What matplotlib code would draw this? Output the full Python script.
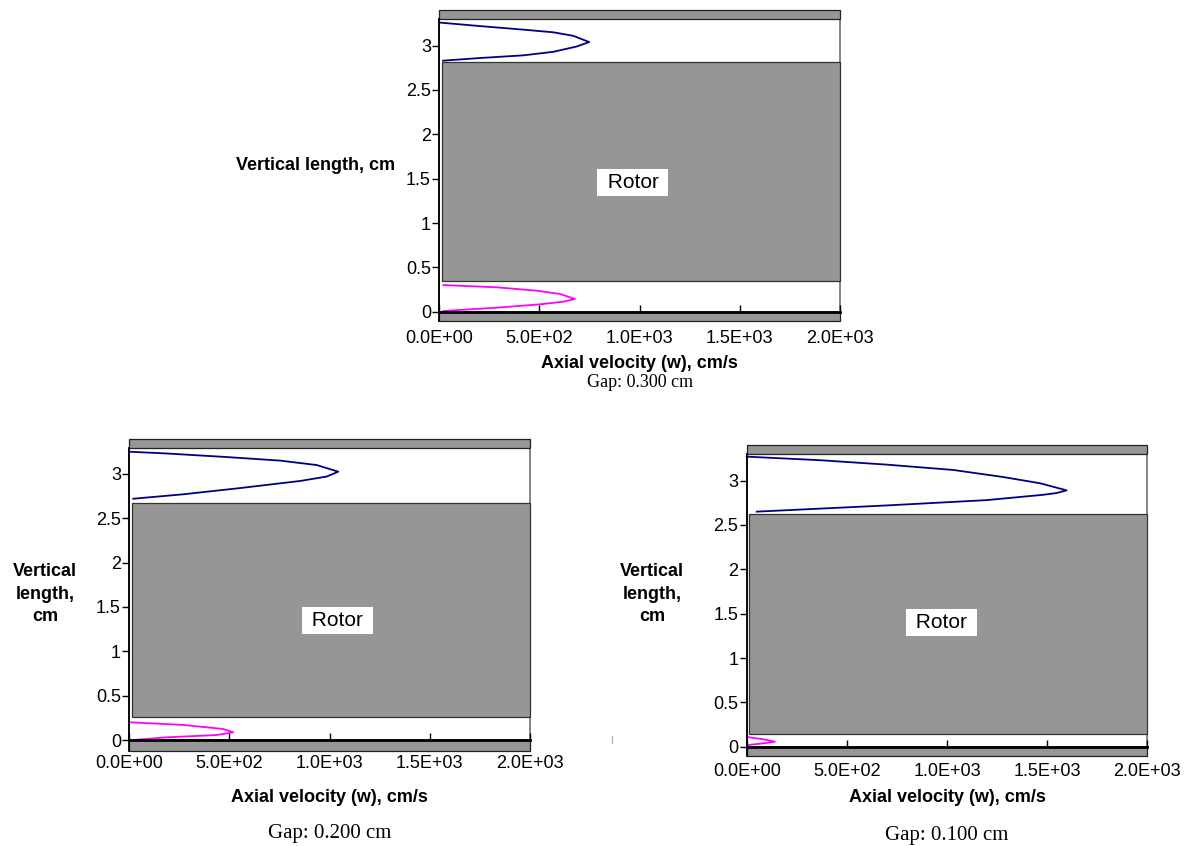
import matplotlib
matplotlib.use("Agg")
import matplotlib.pyplot as plt
from matplotlib.patches import Rectangle
from matplotlib.lines import Line2D
from matplotlib.ticker import FuncFormatter

plt.rcParams["font.family"] = "Liberation Sans"

# axis ticks shared by all three panels
x_ticks = [0, 500, 1000, 1500, 2000]
y_ticks = [0, 0.5, 1, 1.5, 2, 2.5, 3]

gap_labels = ["Gap: 0.300 cm", "Gap: 0.200 cm", "Gap: 0.100 cm"]

# rotor / housing geometry per case (cm)
housing_top = [3.30, 3.29, 3.30]
rotor_bottom = [0.35, 0.26, 0.14]
rotor_top = [2.82, 2.67, 2.62]
wall = [0.105, 0.12, 0.105]

# upper gap velocity profiles (w in cm/s, z in cm)
w_upper_300 = [0, 203, 419, 569, 669, 748, 686, 569, 419, 203, 18]
z_upper_300 = [3.26, 3.22, 3.18, 3.15, 3.11, 3.04, 2.99, 2.93, 2.89, 2.86, 2.83]
w_upper_200 = [0, 188, 486, 752, 935, 1043, 985, 852, 552, 269, 20]
z_upper_200 = [3.25, 3.23, 3.19, 3.15, 3.10, 3.025, 2.97, 2.92, 2.84, 2.77, 2.72]
w_upper_100 = [0, 366, 699, 1031, 1281, 1464, 1597, 1547, 1480, 1198, 699, 50]
z_upper_100 = [3.27, 3.23, 3.18, 3.12, 3.04, 2.97, 2.89, 2.86, 2.84, 2.78, 2.72, 2.65]

# lower gap velocity profiles
w_lower_300 = [20, 286, 486, 602, 677, 619, 502, 286, 20]
z_lower_300 = [0.30, 0.275, 0.237, 0.20, 0.143, 0.113, 0.083, 0.045, 0.008]
w_lower_200 = [0, 269, 469, 519, 436, 186, 20]
z_lower_200 = [0.20, 0.17, 0.124, 0.087, 0.056, 0.03, 0.0]
w_lower_100 = [0, 83, 141, 83, 8]
z_lower_100 = [0.11, 0.083, 0.056, 0.038, 0.019]

upper_w = [w_upper_300, w_upper_200, w_upper_100]
upper_z = [z_upper_300, z_upper_200, z_upper_100]
lower_w = [w_lower_300, w_lower_200, w_lower_100]
lower_z = [z_lower_300, z_lower_200, z_lower_100]
rotor_label_pos = [(966, 1.46), (1039, 1.35), (972, 1.40)]

W, H = 1197, 846
fig = plt.figure(figsize=(W / 100, H / 100), dpi=100)

# panel placement in pixels: left edge, row of z=0, tick label pad
panels = [(439.3, 311.7, 13.5), (129.3, 740.0, 10.5), (746.7, 746.7, 11.5)]
px_per_cm = 88.7
plot_w = 400.7
y_lo, y_hi = -0.12, 3.41

ylabel_pos = [(395, 165, "right", "Vertical length, cm"),
              (45, 594, "center", "Vertical\nlength,\ncm"),
              (652, 594, "center", "Vertical\nlength,\ncm")]
xlabel_y = [363, 797, 797]
gap_y = [382, 833, 835]
gap_size = [13, 15, 15]

for i, (left, zero, pad) in enumerate(panels):
    top = zero - y_hi * px_per_cm
    bottom = zero - y_lo * px_per_cm
    ax = fig.add_axes([left / W, 1 - bottom / H, plot_w / W, (bottom - top) / H])
    ax.set_xlim(0, 2000)
    ax.set_ylim(y_lo, y_hi)
    ax.patch.set_visible(False)

    gray = "#969696"
    # plot frame of the gap region
    ax.add_patch(Rectangle((0, 0), 2000, housing_top[i], fc="white",
                           ec="#707070", lw=1.2, zorder=1, clip_on=False))
    # housing walls above and below
    ax.add_patch(Rectangle((0, housing_top[i]), 2000, 0.1, fc=gray,
                           ec="#222222", lw=0.9, zorder=2, clip_on=False))
    ax.add_patch(Rectangle((0, -wall[i]), 2000, wall[i], fc=gray,
                           ec="#222222", lw=0.9, zorder=2, clip_on=False))
    # rotor body
    ax.add_patch(Rectangle((12, rotor_bottom[i]), 1988,
                           rotor_top[i] - rotor_bottom[i], fc=gray,
                           ec="#333333", lw=0.9, zorder=2, clip_on=False))

    ax.plot(upper_w[i], upper_z[i], color="#000080", lw=1.3, zorder=4,
            solid_joinstyle="round", clip_on=False)
    ax.plot(lower_w[i], lower_z[i], color="#ff00ff", lw=1.3, zorder=4,
            solid_joinstyle="round", clip_on=False)

    rx, ry = rotor_label_pos[i]
    ax.text(rx, ry, " Rotor ", fontsize=15, ha="center", va="center",
            zorder=5, bbox=dict(boxstyle="square,pad=0.2", fc="white", ec="none"))

    for side in ["top", "right"]:
        ax.spines[side].set_visible(False)
    ax.spines["left"].set_position(("data", 0))
    ax.spines["left"].set_bounds(-wall[i], housing_top[i])
    ax.spines["left"].set_linewidth(1.3)
    ax.spines["left"].set_zorder(6)
    ax.spines["bottom"].set_position(("data", 0))
    ax.spines["bottom"].set_linewidth(2)
    ax.spines["bottom"].set_zorder(6)

    ax.set_xticks(x_ticks)
    ax.set_yticks(y_ticks)
    ax.xaxis.set_major_formatter(FuncFormatter(lambda v, p: f"{v:.1E}"))
    ax.yaxis.set_major_formatter(FuncFormatter(lambda v, p: f"{v:g}"))
    ax.tick_params(axis="x", direction="in", length=5, width=1,
                   pad=pad, labelsize=13)
    ax.tick_params(axis="y", direction="out", length=5, width=1,
                   pad=1, labelsize=13)

    lx, ly, ha, txt = ylabel_pos[i]
    fig.text(lx / W, 1 - ly / H, txt, ha=ha, va="center", fontsize=13,
             fontweight="bold", linespacing=1.4)
    cx = (left + plot_w / 2) / W
    fig.text(cx, 1 - xlabel_y[i] / H, "Axial velocity (w), cm/s", ha="center",
             va="center", fontsize=13, fontweight="bold")
    fig.text(cx, 1 - gap_y[i] / H, gap_labels[i], ha="center", va="center",
             fontsize=gap_size[i], family="Liberation Serif")

# small stray mark between the lower panels
fig.add_artist(Line2D([612 / W, 612 / W], [1 - 736 / H, 1 - 743 / H],
                      color="#b4b4b4", lw=1))

fig.savefig("out.png", dpi=100)
